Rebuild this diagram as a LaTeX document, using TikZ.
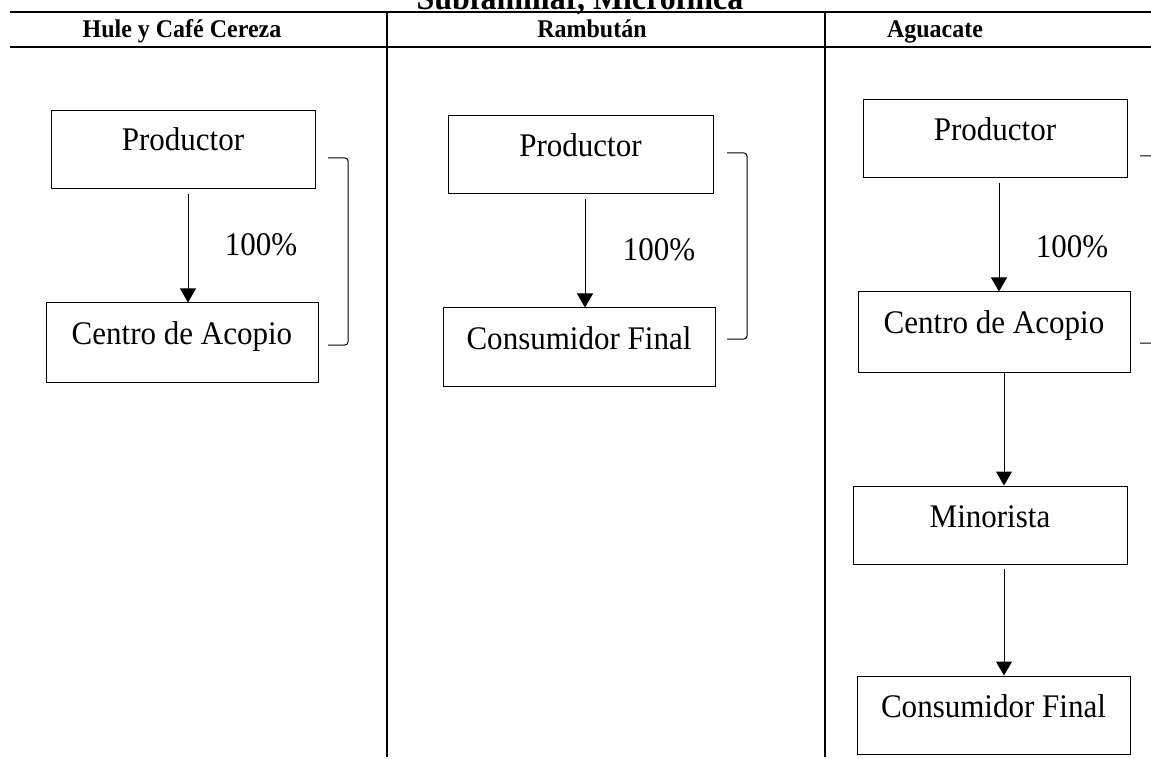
\documentclass[tikz,border=0pt]{standalone}
\usepackage{fontspec}
\setmainfont[FakeStretch=0.94]{Liberation Serif}
\usetikzlibrary{arrows.meta,calc}
\begin{document}
\begin{tikzpicture}[x=1pt,y=-1pt,
  box/.style={draw,line width=1pt,inner sep=0pt},
  lbl/.style={anchor=base,inner sep=0pt,font=\fontsize{33}{38}\selectfont},
  hdr/.style={anchor=base,inner sep=0pt,font=\fontsize{25.5}{29}\selectfont\bfseries},
  arr/.style={line width=1pt,-{Triangle[width=16pt,length=14pt]}},
  rule/.style={line width=2pt},
  brk/.style={line width=1pt,rounded corners=3pt}]
\useasboundingbox (0,0) rectangle (1151,759);
\clip (0,0) rectangle (1151,759);
% title and table rules
\node[hdr,font=\fontsize{34}{38}\selectfont\bfseries] (title) at (580,10) {Subfamiliar, Microfinca};
\draw[rule] (10,12.5) -- (1160,12.5);
\draw[rule] (10,47) -- (1160,47);
\draw[rule] (387,12.5) -- (387,757);
\draw[rule] (825,12.5) -- (825,757);
\node[hdr] (h1) at (182,38) {Hule y Café Cereza};
\node[hdr] (h2) at (592,38) {Rambután};
\node[hdr] (h3) at (935,38) {Aguacate};
% column 1
\node[box,minimum width=264pt,minimum height=78pt] (p1) at (183,150) {};
\node[lbl] (p1t) at ($(p1.north)+(0,40)$) {Productor};
\node[box,minimum width=272pt,minimum height=79pt] (c1) at (182,342.5) {};
\node[lbl] (c1t) at ($(c1.north)+(0,42)$) {Centro de Acopio};
\draw[arr] ([xshift=5pt,yshift=-5pt]p1.south) -- ([xshift=6pt]c1.north);
\node[lbl] (q1) at (261,256) {100\%};
\draw[brk] (328,158) -- (348,158) -- (348,345) -- (328,345);
% column 2
\node[box,minimum width=265pt,minimum height=78pt] (p2) at (580.5,155) {};
\node[lbl] (p2t) at ($(p2.north)+(0,41)$) {Productor};
\node[box,minimum width=272pt,minimum height=78pt] (f2) at (579,347) {};
\node[lbl] (f2t) at ($(f2.north)+(0,42)$) {Consumidor Final};
\draw[arr] ([xshift=4.5pt,yshift=-5pt]p2.south) -- ([xshift=6pt]f2.north);
\node[lbl] (q2) at (659,261) {100\%};
\draw[brk] (727,153) -- (747,153) -- (747,339) -- (727,339);
% column 3
\node[box,minimum width=264pt,minimum height=78pt] (p3) at (995,139) {};
\node[lbl] (p3t) at ($(p3.north)+(0,41)$) {Productor};
\node[box,minimum width=272pt,minimum height=80pt] (c3) at (994,332) {};
\node[lbl] (c3t) at ($(c3.north)+(0,42)$) {Centro de Acopio};
\node[box,minimum width=274pt,minimum height=78pt] (m3) at (990,525) {};
\node[lbl] (m3t) at ($(m3.north)+(0,42)$) {Minorista};
\node[box,minimum width=273pt,minimum height=78pt] (f3) at (993.5,715) {};
\node[lbl] (f3t) at ($(f3.north)+(0,42)$) {Consumidor Final};
\draw[arr] ([xshift=4pt,yshift=-5pt]p3.south) -- ([xshift=5pt]c3.north);
\draw[arr] ([xshift=10pt]c3.south) -- ([xshift=14pt]m3.north);
\draw[arr] ([xshift=14pt,yshift=-4pt]m3.south) -- ([xshift=10.5pt]f3.north);
\node[lbl] (q3) at (1072,258) {100\%};
\draw[brk] (1140,156) -- (1160,156) -- (1160,343) -- (1140,343);
\end{tikzpicture}
\end{document}
